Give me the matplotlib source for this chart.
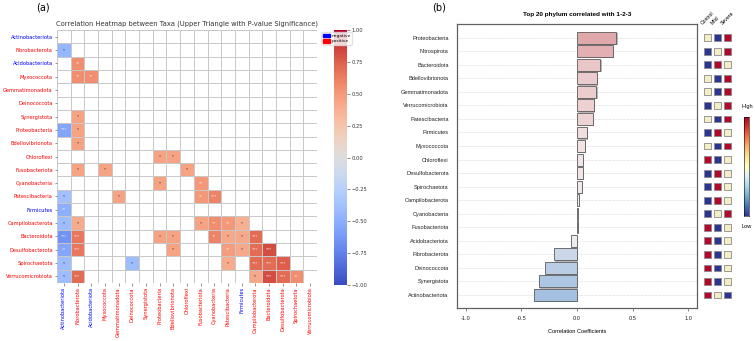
import numpy as np
import matplotlib
matplotlib.use("Agg")
import matplotlib.pyplot as plt
import matplotlib.patheffects as pe
from matplotlib.patches import Patch
from matplotlib.colors import LinearSegmentedColormap, ListedColormap

# ---- panel (a): taxa x taxa correlation (lower triangle, significant only) ----
taxa = ["Actinobacteriota", "Fibrobacterota", "Acidobacteriota", "Myxococcota",
        "Gemmatimonadota", "Deinococcota", "Synergistota", "Proteobacteria",
        "Bdellovibrionota", "Chloroflexi", "Fusobacteriota", "Cyanobacteria",
        "Patescibacteria", "Firmicutes", "Campilobacterota", "Bacteroidota",
        "Desulfobacterota", "Spirochaetota", "Verrucomicrobiota"]
negative_taxa = ["Actinobacteriota", "Acidobacteriota", "Firmicutes"]

sig_row = ["Fibrobacterota", "Acidobacteriota", "Myxococcota", "Myxococcota",
           "Synergistota", "Proteobacteria", "Proteobacteria", "Bdellovibrionota",
           "Chloroflexi", "Chloroflexi", "Fusobacteriota", "Fusobacteriota",
           "Fusobacteriota", "Cyanobacteria", "Cyanobacteria", "Patescibacteria",
           "Patescibacteria", "Patescibacteria", "Patescibacteria", "Firmicutes",
           "Campilobacterota", "Campilobacterota", "Campilobacterota", "Campilobacterota",
           "Campilobacterota", "Campilobacterota", "Bacteroidota", "Bacteroidota",
           "Bacteroidota", "Bacteroidota", "Bacteroidota", "Bacteroidota",
           "Bacteroidota", "Bacteroidota", "Desulfobacterota", "Desulfobacterota",
           "Desulfobacterota", "Desulfobacterota", "Desulfobacterota", "Desulfobacterota",
           "Desulfobacterota", "Spirochaetota", "Spirochaetota", "Spirochaetota",
           "Spirochaetota", "Spirochaetota", "Spirochaetota", "Verrucomicrobiota",
           "Verrucomicrobiota", "Verrucomicrobiota", "Verrucomicrobiota", "Verrucomicrobiota",
           "Verrucomicrobiota"]
sig_col = ["Actinobacteriota", "Fibrobacterota", "Fibrobacterota", "Acidobacteriota",
           "Fibrobacterota", "Actinobacteriota", "Fibrobacterota", "Fibrobacterota",
           "Proteobacteria", "Bdellovibrionota", "Fibrobacterota", "Myxococcota",
           "Chloroflexi", "Proteobacteria", "Fusobacteriota", "Actinobacteriota",
           "Gemmatimonadota", "Fusobacteriota", "Cyanobacteria", "Actinobacteriota",
           "Actinobacteriota", "Fibrobacterota", "Fusobacteriota", "Cyanobacteria",
           "Patescibacteria", "Firmicutes", "Actinobacteriota", "Fibrobacterota",
           "Proteobacteria", "Bdellovibrionota", "Cyanobacteria", "Patescibacteria",
           "Firmicutes", "Campilobacterota", "Actinobacteriota", "Fibrobacterota",
           "Bdellovibrionota", "Patescibacteria", "Firmicutes", "Campilobacterota",
           "Bacteroidota", "Actinobacteriota", "Deinococcota", "Patescibacteria",
           "Campilobacterota", "Bacteroidota", "Desulfobacterota", "Actinobacteriota",
           "Fibrobacterota", "Campilobacterota", "Bacteroidota", "Desulfobacterota",
           "Spirochaetota"]
sig_r = [-0.45, 0.55, 0.55, 0.55,
         0.45, -0.55, 0.45, 0.45,
         0.45, 0.45, 0.45, 0.45,
         0.45, 0.45, 0.50, -0.38,
         0.45, 0.50, 0.60, -0.50,
         -0.40, 0.40, 0.45, 0.55,
         0.50, 0.38, -0.65, 0.65,
         0.45, 0.45, 0.60, 0.42,
         0.42, 0.70, -0.55, 0.65,
         0.45, 0.48, 0.42, 0.70,
         0.82, -0.40, -0.40, 0.40,
         0.70, 0.70, 0.75, -0.40,
         0.70, 0.42, 0.82, 0.70,
         0.55]
sig_star = ["*", "**", "**", "**",
            "*", "***", "*", "*",
            "*", "*", "*", "*",
            "*", "*", "**", "*",
            "*", "**", "***", "**",
            "*", "*", "*", "**",
            "**", "*", "***", "***",
            "*", "*", "**", "*",
            "*", "***", "**", "***",
            "*", "**", "*", "***",
            "***", "*", "*", "*",
            "***", "***", "***", "*",
            "***", "*", "***", "***",
            "**"]

# ---- panel (b): top 20 phyla correlated with group (top -> bottom) ----
bar_taxa = ["Proteobacteria", "Nitrospirota", "Bacteroidota", "Bdellovibrionota",
            "Gemmatimonadota", "Verrucomicrobiota", "Patescibacteria", "Firmicutes",
            "Myxococcota", "Chloroflexi", "Desulfobacterota", "Spirochaetota",
            "Campilobacterota", "Cyanobacteria", "Fusobacteriota", "Acidobacteriota",
            "Fibrobacterota", "Deinococcota", "Synergistota", "Actinobacteriota"]
bar_r = [0.355, 0.32, 0.21, 0.18,
         0.175, 0.155, 0.145, 0.09,
         0.07, 0.055, 0.055, 0.045,
         0.015, 0.01, 0.008, -0.05,
         -0.21, -0.29, -0.345, -0.39]
groups = ["Control", "Mild", "Severe"]
# relative abundance level per group: 0 = low, 1 = mid, 2 = high
level_control = [1, 0, 0, 1, 1, 0, 1, 0, 1, 2, 0, 0, 0, 0, 2, 2, 2, 2, 2, 2]
level_mild = [0, 1, 2, 0, 0, 1, 0, 2, 0, 0, 2, 2, 2, 1, 0, 0, 0, 0, 0, 1]
level_severe = [2, 2, 1, 2, 2, 2, 2, 1, 2, 1, 1, 1, 1, 2, 1, 1, 1, 1, 1, 0]

W, H = 755, 341
fig = plt.figure(figsize=(W / 100, H / 100), dpi=100)

# ===================== (a) heatmap =====================
n = len(taxa)
mat = np.full((n, n), np.nan)
for rname, cname, r in zip(sig_row, sig_col, sig_r):
    mat[taxa.index(rname), taxa.index(cname)] = r

ax1 = fig.add_axes([57 / W, 1 - 283 / H, 260 / W, 253 / H])
im = ax1.imshow(np.ma.masked_invalid(mat), cmap="coolwarm", vmin=-1, vmax=1,
                aspect="auto", interpolation="nearest", zorder=1)
ax1.set_xlim(-0.5, n - 0.5)
ax1.set_ylim(n - 0.5, -0.5)
ax1.set_xticks(np.arange(n) - 0.5, minor=True)
ax1.set_yticks(np.arange(n) - 0.5, minor=True)
ax1.grid(which="minor", color="#c8c8c8", linewidth=0.7, zorder=2)
ax1.tick_params(which="minor", length=0)
ax1.set_xticks(np.arange(n))
ax1.set_yticks(np.arange(n))
ax1.set_xticklabels(taxa, rotation=90, fontsize=3.7)
ax1.set_yticklabels(taxa, fontsize=3.7)
ax1.tick_params(which="major", length=1.8, width=0.4, color="#444444", pad=1.2)
for lab in ax1.get_xticklabels() + ax1.get_yticklabels():
    lab.set_color("blue" if lab.get_text() in negative_taxa else "red")
for s in ax1.spines.values():
    s.set_visible(False)

for rname, cname, star in zip(sig_row, sig_col, sig_star):
    tc = "#222222" if star == "*" else "#f4f4f4"
    ax1.text(taxa.index(cname), taxa.index(rname), star, ha="center", va="center",
             fontsize=3, color=tc, zorder=3)

ax1.set_title("Correlation Heatmap between Taxa (Upper Triangle with P-value Significance)",
              fontsize=4.9, color="#333333", pad=3)

cax1 = fig.add_axes([334 / W, 1 - 285 / H, 13 / W, 255 / H])
cb1 = fig.colorbar(im, cax=cax1)
cb1.outline.set_visible(False)
cb_ticks = np.linspace(-1, 1, 9)
cb1.set_ticks(cb_ticks)
cb1.set_ticklabels([f"{v:.2f}".replace("-", "\u2212") for v in cb_ticks])
cax1.tick_params(labelsize=3.7, length=1.8, width=0.4, pad=1.2, colors="#333333")

fig.legend(handles=[Patch(color="blue", label="negative"), Patch(color="red", label="positive")],
           loc="upper left", bbox_to_anchor=(319 / W, 1 - 30 / H), fontsize=3.2,
           handlelength=1.6, handleheight=0.9, borderpad=0.3, labelspacing=0.25,
           handletextpad=0.4, framealpha=0.8, edgecolor="#dddddd", fancybox=True)

fig.text(43 / W, 1 - 7.5 / H, "(a)", fontsize=7, ha="center", va="center")

# ===================== (b) bar chart =====================
rfont = "Liberation Sans"
nb = len(bar_taxa)
ypos = np.arange(nb)[::-1]

bar_cmap = LinearSegmentedColormap.from_list("bar", ["#8db3dd", "#f6f1f1", "#d98a8e"])
bar_cols = bar_cmap((np.array(bar_r) + 0.5) / 1.0)

ax2 = fig.add_axes([457 / W, 1 - 308 / H, 240 / W, 284 / H])
for y in ypos:
    ax2.axhline(y, color="#cfcfcf", linestyle=(0, (1, 1)), linewidth=0.5, zorder=0)
ax2.barh(ypos, bar_r, height=0.88, color=bar_cols, edgecolor="#5a5a5a", linewidth=0.6,
         zorder=2, path_effects=[pe.SimplePatchShadow(offset=(0.9, -0.9), shadow_rgbFace="#9a9a9a",
                                                     alpha=0.7), pe.Normal()])
ax2.set_xlim(-1.08, 1.08)
ax2.set_ylim(-0.96, nb - 1 + 1.01)
ax2.set_yticks(ypos)
ax2.set_yticklabels(bar_taxa, fontsize=4.1, family=rfont, color="#222222")
ax2.tick_params(axis="y", length=0, pad=6)
ax2.set_xticks([-1.0, -0.5, 0.0, 0.5, 1.0])
ax2.set_xticklabels(["-1.0", "-0.5", "0.0", "0.5", "1.0"], fontsize=4.1, family=rfont,
                    color="#222222")
ax2.tick_params(axis="x", length=2.5, width=0.5, color="#555555", pad=3)
ax2.set_xlabel("Correlation Coefficients", fontsize=4.1, family=rfont, labelpad=6)
for s in ax2.spines.values():
    s.set_color("#606060")
    s.set_linewidth(0.9)
ax2.set_title("Top 20 phylum correlated with 1-2-3", fontsize=4.6, family=rfont,
              fontweight="bold", pad=6)

fig.text(439.5 / W, 1 - 7.5 / H, "(b)", fontsize=7, ha="center", va="center")

# group abundance squares
level_cmap = ListedColormap(["#2b3594", "#f4eec6", "#b3072c"])
ax3 = fig.add_axes([702.3 / W, 1 - 308 / H, 30 / W, 284 / H])
ax3.set_xlim(-0.5, 2.5)
ax3.set_ylim(ax2.get_ylim())
for gi, levels in enumerate([level_control, level_mild, level_severe]):
    ax3.scatter(np.full(nb, gi), ypos, c=levels, cmap=level_cmap, vmin=0, vmax=2,
                marker="s", s=24, edgecolors="#8a8a8a", linewidths=0.6)
    ax3.text(gi - 0.35, nb - 1 + 0.9, groups[gi], rotation=45, ha="left", va="bottom",
             rotation_mode="anchor", fontsize=3.7, family=rfont)
ax3.axis("off")

cax2 = fig.add_axes([744 / W, 1 - 216 / H, 5 / W, 99 / H])
grad = np.linspace(0, 1, 256)[:, None]
cax2.imshow(grad, cmap="RdYlBu_r", aspect="auto", origin="lower")
cax2.set_xticks([])
cax2.set_yticks([])
for s in cax2.spines.values():
    s.set_linewidth(0.4)
fig.text(747 / W, 1 - 107 / H, "High", fontsize=4.1, family=rfont, ha="center", va="center")
fig.text(747 / W, 1 - 226 / H, "Low", fontsize=4.1, family=rfont, ha="center", va="center")

fig.savefig("out.png", dpi=100)
